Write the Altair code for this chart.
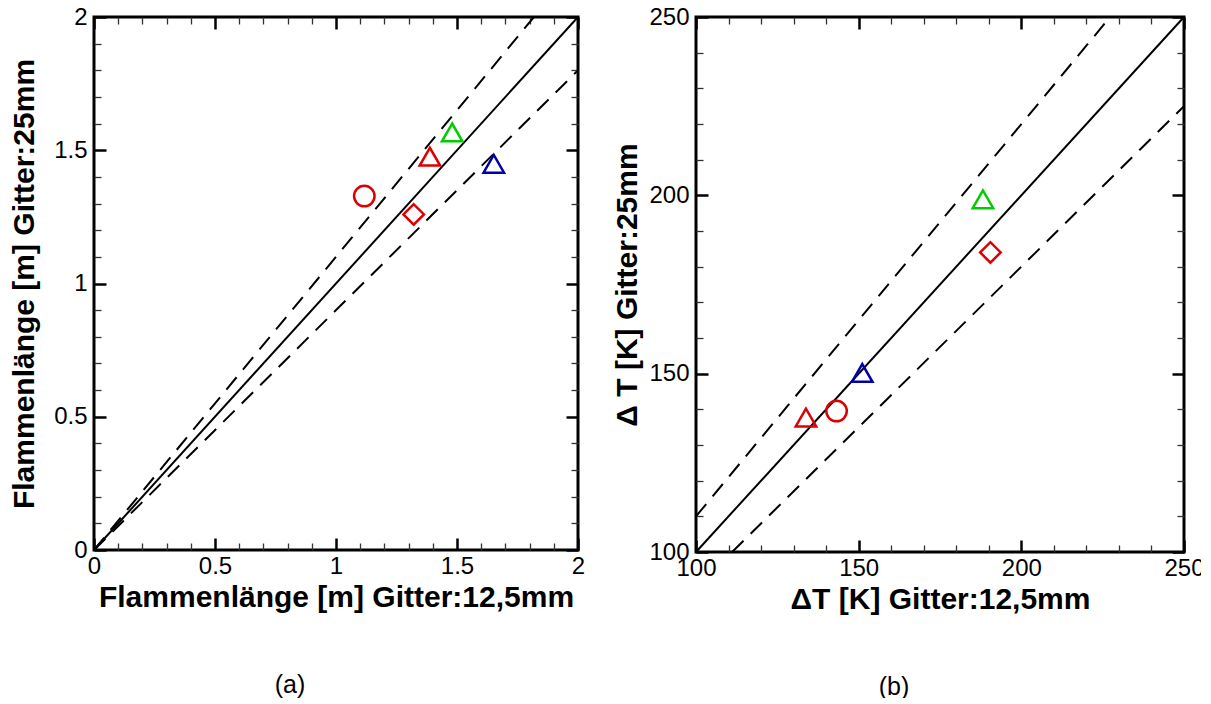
import altair as alt
import pandas as pd

# ---------------- data ----------------
series = ["red_circle", "red_triangle", "green_triangle", "blue_triangle", "red_diamond"]
shapes = ["circle", "triangle-up", "triangle-up", "triangle-up", "diamond"]
colors = ["#dd0000", "#dd0000", "#00cc00", "#0000aa", "#dd0000"]

# panel (a): flame length
a_x = [1.117, 1.388, 1.480, 1.652, 1.321]
a_y = [1.328, 1.476, 1.567, 1.449, 1.259]
# panel (b): delta T
b_x = [143.2, 133.8, 188.2, 151.1, 190.5]
b_y = [139.5, 137.7, 198.9, 150.2, 184.0]

# reference lines (solid 1:1, dashed +/-10 %)
a_line_group = ["solid", "solid", "upper", "upper", "lower", "lower"]
a_line_x = [0, 2, 0, 1.818, 0, 2]
a_line_y = [0, 2, 0, 2, 0, 1.8]
b_line_group = ["solid", "solid", "upper", "upper", "lower", "lower"]
b_line_x = [100, 250, 100, 227.3, 111.1, 250]
b_line_y = [100, 250, 110, 250, 100, 225]

a_domain = [0, 2]
a_major = [0, 0.5, 1, 1.5, 2]
a_minor = [0.1, 0.2, 0.3, 0.4, 0.6, 0.7, 0.8, 0.9, 1.1, 1.2, 1.3, 1.4, 1.6, 1.7, 1.8, 1.9]
b_domain = [100, 250]
b_major = [100, 150, 200, 250]
b_minor = [110, 120, 130, 140, 160, 170, 180, 190, 210, 220, 230, 240]

FONT = "Liberation Sans"
LABEL_EXPR = "toString(datum.value)"


def tick_axis(orient, values, size, width, color):
    return alt.Axis(orient=orient, values=values, offset=-size, tickSize=size,
                    tickWidth=width, tickColor=color, labels=False, domain=False,
                    grid=False, title=None, minExtent=0)


def panel(px, py, lg, lx, ly, domain, major, minor, xtitle, ytitle, ytpad, label, w, h):
    pts = pd.DataFrame({"x": px, "y": py, "series": series, "shape": shapes, "color": colors})
    lines = pd.DataFrame({"x": lx, "y": ly, "group": lg})
    sc = alt.Scale(domain=domain, nice=False, zero=False)

    xlab = alt.Axis(orient="bottom", values=major, labelExpr=LABEL_EXPR, ticks=False,
                    domain=False, grid=False, labelFlush=False, labelPadding=4,
                    title=xtitle, titlePadding=4,
                    labelFontSize=24, titleFontSize=30, titleFontWeight="bold")
    ylab = alt.Axis(orient="left", values=major, labelExpr=LABEL_EXPR, ticks=False,
                    domain=False, grid=False, labelPadding=7, title=ytitle, titlePadding=ytpad,
                    labelFontSize=24, titleFontSize=30, titleFontWeight="bold")

    solid = alt.Chart(lines).transform_filter(alt.datum.group == "solid").mark_line(
        color="black", strokeWidth=2).encode(
        x=alt.X("x:Q", scale=sc, axis=tick_axis("bottom", major, 12, 2.5, "black")),
        y=alt.Y("y:Q", scale=sc, axis=tick_axis("left", major, 12, 2.5, "black")))
    upper = alt.Chart(lines).transform_filter(alt.datum.group == "upper").mark_line(
        color="black", strokeWidth=2, strokeDash=[16, 10]).encode(
        x=alt.X("x:Q", scale=sc, axis=tick_axis("top", major, 12, 2.5, "black")),
        y=alt.Y("y:Q", scale=sc, axis=tick_axis("right", major, 12, 2.5, "black")))
    lower = alt.Chart(lines).transform_filter(alt.datum.group == "lower").mark_line(
        color="black", strokeWidth=2, strokeDash=[16, 10]).encode(
        x=alt.X("x:Q", scale=sc, axis=tick_axis("bottom", minor, 7, 1.3, "#333333")),
        y=alt.Y("y:Q", scale=sc, axis=tick_axis("left", minor, 7, 1.3, "#333333")))
    ghost = alt.Chart(pts).mark_point(opacity=0).encode(
        x=alt.X("x:Q", scale=sc, axis=tick_axis("top", minor, 7, 1.3, "#333333")),
        y=alt.Y("y:Q", scale=sc, axis=tick_axis("right", minor, 7, 1.3, "#333333")))
    points = alt.Chart(pts).mark_point(filled=False, size=420, strokeWidth=2.5, opacity=1).encode(
        x=alt.X("x:Q", scale=sc, axis=xlab),
        y=alt.Y("y:Q", scale=sc, axis=ylab),
        shape=alt.Shape("shape:N", scale=None),
        color=alt.Color("color:N", scale=None),
        tooltip=["series:N", "x:Q", "y:Q"])

    return alt.layer(solid, upper, lower, ghost, points).resolve_axis(
        x="independent", y="independent").properties(
        width=w, height=h,
        title=alt.TitleParams(label, orient="bottom", dx=-46, offset=61, fontSize=25,
                              fontWeight="normal", font=FONT, color="black"))


left = panel(a_x, a_y, a_line_group, a_line_x, a_line_y, a_domain, a_major, a_minor,
             "Flammenlänge [m] Gitter:12,5mm", "Flammenlänge [m] Gitter:25mm", 14,
             "(a)", 484, 533)
right = panel(b_x, b_y, b_line_group, b_line_x, b_line_y, b_domain, b_major, b_minor,
              "ΔT [K] Gitter:12,5mm", "Δ T [K] Gitter:25mm", 6, "(b)", 488, 535)

chart = alt.hconcat(left, right, spacing=24).properties(
    padding={"left": 0, "top": -5, "right": -5, "bottom": -4},
    background="white",
).configure_view(stroke="black", strokeWidth=3).configure_axis(
    labelFont=FONT, titleFont=FONT, labelColor="black", titleColor="black")

chart.save("out.html", embed_options={"renderer": "svg", "actions": False})
